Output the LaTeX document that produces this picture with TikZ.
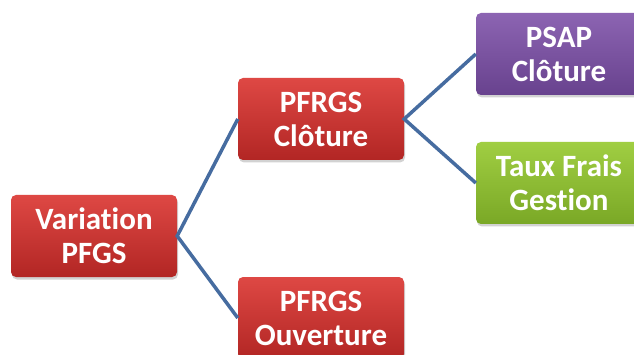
\documentclass[tikz,border=0pt]{standalone}
\usepackage{fontspec}
\setmainfont{Carlito}[Ligatures={NoCommon}]
\usetikzlibrary{shadows}
\definecolor{redtop}{RGB}{222,72,68}
\definecolor{redbot}{RGB}{178,38,36}
\definecolor{purtop}{RGB}{140,100,178}
\definecolor{purbot}{RGB}{104,66,142}
\definecolor{grntop}{RGB}{160,206,66}
\definecolor{grnbot}{RGB}{122,168,38}
\definecolor{linkblue}{RGB}{70,108,160}
\tikzset{
  box/.style={rounded corners=5pt, minimum width=166pt, minimum height=82pt,
    inner sep=0pt, align=center, text=white,
    font=\fontsize{31}{34}\selectfont\bfseries,
    drop shadow={opacity=0.35, shadow xshift=1pt, shadow yshift=-2.5pt}},
  redbox/.style={box, top color=redtop, bottom color=redbot},
  purbox/.style={box, top color=purtop, bottom color=purbot},
  grnbox/.style={box, top color=grntop, bottom color=grnbot},
  link/.style={draw=linkblue, line width=3.5pt}
}
\begin{document}
\begin{tikzpicture}[x=1pt, y=-1pt]
  \useasboundingbox[fill=white] (0,0) rectangle (634,355);
  \node[redbox] (var) at (94,236) {Variation\\PFGS};
  \node[redbox] (clo) at (321,119) {PFRGS\\Clôture};
  \node[redbox] (ouv) at (321,318) {PFRGS\\Ouverture};
  \node[purbox] (psap) at (559,54) {PSAP\\Clôture};
  \node[grnbox] (taux) at (559,183) {Taux Frais\\Gestion};
  \draw[link] (clo.west) -- (var.east) -- (ouv.west);
  \draw[link] (psap.west) -- (clo.east) -- (taux.west);
\end{tikzpicture}
\end{document}
